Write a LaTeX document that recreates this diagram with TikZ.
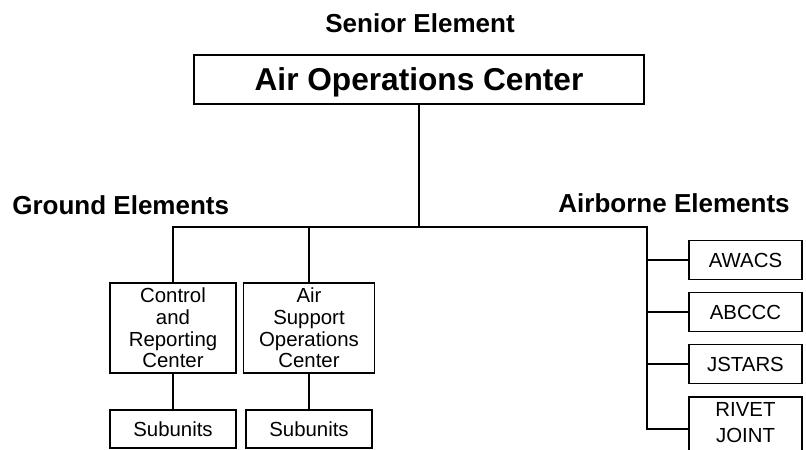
\documentclass[tikz,border=0pt]{standalone}
\usepackage{fontspec}
\setsansfont{Liberation Sans}

\begin{document}
\begin{tikzpicture}[
    x=0.025cm, y=-0.025cm,
    font=\sffamily,
    l/.style={
        line width=1.5pt,
    },
    b/.style={
        draw, line width=1.1pt, inner sep=0pt, align=center,
        font=\sffamily\fontsize{14.5}{15.5}\selectfont
    },
    m/.style={
        b, line width=1.4pt, minimum width=11.25cm, minimum height=1.225cm,
        text depth=0pt,
        font=\sffamily\bfseries\fontsize{22.5}{27}\selectfont
    },
    g/.style={
        b, minimum width=3.15cm, minimum height=2.25cm
    },
    u/.style={
        b, minimum width=3.15cm, minimum height=0.95cm
    },
    p/.style={
        b, minimum width=2.825cm, minimum height=0.975cm
    },
    t/.style={
        inner sep=0pt,
        font=\sffamily\bfseries\fontsize{18.5}{22}\selectfont
    }
]

    \clip (0,0) rectangle (806,449);

    \node [t,anchor=base] (sen) at (420, 32) {Senior Element};
    \node [m] (aoc) at (419, 79.5) {Air Operations Center};
    \node [t,anchor=base west] (gnd) at ( 12, 214) {Ground Elements};
    \node [t,anchor=base east] (air) at (790, 212) {Airborne Elements};

    \node [g] (crc) at (173, 328) {Control\\and\\Reporting\\Center};
    \node [g,minimum width=3.275cm] (asoc) at (309, 328) {Air\\Support\\Operations\\Center};
    \node [u] (sub1) at (173, 429) {Subunits};
    \node [u] (sub2) at (309, 429) {Subunits};

    \node [p] (awacs)  at (745.5, 260) {AWACS};
    \node [p] (abccc)  at (745.5, 312) {ABCCC};
    \node [p] (jstars) at (745.5, 364) {JSTARS};
    \node [p,minimum height=1.6cm,text depth=9pt,font=\sffamily\fontsize{14.5}{18.5}\selectfont] (rivet) at (745.5, 429) {RIVET\\JOINT};

    \coordinate (j)  at (419, 227);
    \coordinate (gl) at (173, 227);
    \coordinate (ar) at (647, 227);

    \draw [l] (aoc) -- (j);
    \draw [l] (crc) -- (gl) -- (ar) |- (rivet);
    \draw [l] (asoc) -- (asoc |- gl);
    \draw [l] (crc) -- (sub1);
    \draw [l] (asoc) -- (sub2);
    \foreach \n in {awacs,abccc,jstars}
        \draw [l] (ar |- \n.west) -- (\n);

\end{tikzpicture}
\end{document}
